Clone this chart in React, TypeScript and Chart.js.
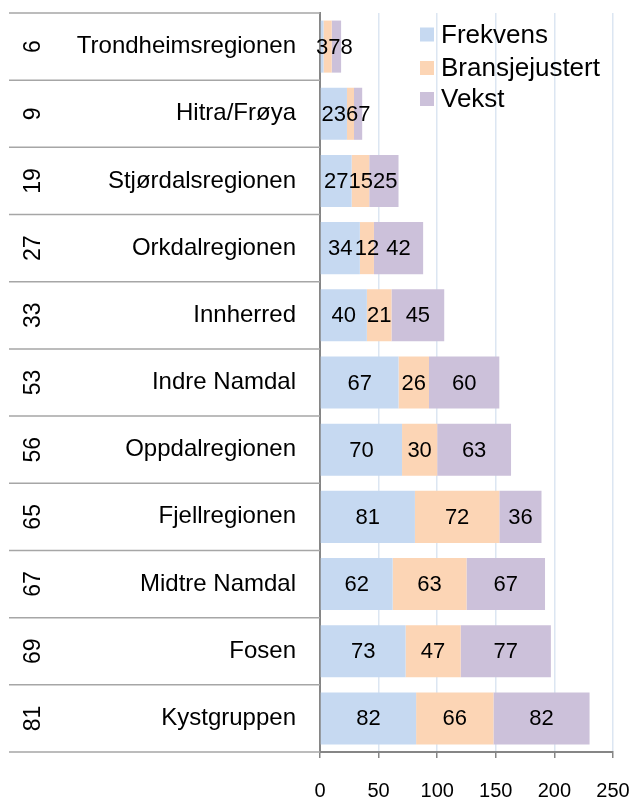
import React, { useEffect, useRef } from 'react';
import { Chart, registerables } from 'chart.js';

Chart.register(...registerables);

const regions = [
  'Trondheimsregionen',
  'Hitra/Frøya',
  'Stjørdalsregionen',
  'Orkdalregionen',
  'Innherred',
  'Indre Namdal',
  'Oppdalregionen',
  'Fjellregionen',
  'Midtre Namdal',
  'Fosen',
  'Kystgruppen',
];
const ranks = [6, 9, 19, 27, 33, 53, 56, 65, 67, 69, 81];
const frekvens = [3, 23, 27, 34, 40, 67, 70, 81, 62, 73, 82];
const bransjejustert = [7, 6, 15, 12, 21, 26, 30, 72, 63, 47, 66];
const vekst = [8, 7, 25, 42, 45, 60, 63, 36, 67, 77, 82];
const seriesNames = ['Frekvens', 'Bransjejustert', 'Vekst'];
const seriesColors = ['#c6d9f1', '#fcd5b5', '#ccc1da'];
const xMin = 0;
const xMax = 250;
const xStep = 50;

const FONT = '"Liberation Sans", Arial, Helvetica, sans-serif';

const tablePlugin = {
  id: 'tablePlugin',
  afterDatasetsDraw(chart: any) {
    const { ctx } = chart;
    ctx.save();
    ctx.font = `22px ${FONT}`;
    ctx.fillStyle = '#000';
    ctx.textBaseline = 'middle';
    ctx.textAlign = 'center';
    const n = regions.length;
    for (let i = 0; i < n; i++) {
      let prevRight = -Infinity;
      chart.data.datasets.forEach((ds: any, d: number) => {
        const el = chart.getDatasetMeta(d).data[i];
        if (!el) return;
        const text = String(ds.data[i]);
        const w = ctx.measureText(text).width;
        const cx = (el.x + el.base) / 2;
        let left = cx - w / 2;
        if (left < prevRight) left = prevRight;
        ctx.fillText(text, left + w / 2, el.y + 1);
        prevRight = left + w;
      });
    }
    ctx.restore();
  },
  afterDraw(chart: any) {
    const { ctx, chartArea, scales } = chart;
    const y = scales.y;
    const n = regions.length;
    const step = (chartArea.bottom - chartArea.top) / n;
    ctx.save();
    // table lines
    ctx.strokeStyle = '#a6a6a6';
    ctx.lineWidth = 1.5;
    for (let i = 0; i <= n; i++) {
      const yy = i < n ? y.getPixelForValue(i) - step / 2 : y.getPixelForValue(n - 1) + step / 2;
      ctx.beginPath();
      ctx.moveTo(9, yy);
      ctx.lineTo(chartArea.left, yy);
      ctx.stroke();
    }
    // rank numbers rotated
    ctx.fillStyle = '#000';
    ctx.font = `23px ${FONT}`;
    ctx.textAlign = 'center';
    ctx.textBaseline = 'middle';
    for (let i = 0; i < n; i++) {
      ctx.save();
      ctx.translate(34, y.getPixelForValue(i));
      ctx.rotate(-Math.PI / 2);
      ctx.fillText(String(ranks[i]), 0, 0);
      ctx.restore();
    }
    // legend
    const lx = 420;
    const ly = [34.5, 68, 99];
    ctx.font = `26px ${FONT}`;
    ctx.textAlign = 'left';
    chart.data.datasets.forEach((ds: any, d: number) => {
      ctx.fillStyle = ds.backgroundColor;
      ctx.fillRect(lx, ly[d] - 7, 14, 14);
      ctx.fillStyle = '#000';
      ctx.fillText(ds.label, lx + 21, ly[d] + 1);
    });
    ctx.restore();
  },
};

export default function App() {
  const ref = useRef<HTMLCanvasElement | null>(null);
  useEffect(() => {
    if (!ref.current) return;
    const seriesData = [frekvens, bransjejustert, vekst];
    const zeroPadding = (scale: any) => {
      scale.paddingTop = 0;
      scale.paddingBottom = 0;
      scale.paddingLeft = 0;
      scale.paddingRight = 0;
    };
    const chart = new Chart(ref.current, {
      type: 'bar',
      data: {
        labels: regions,
        datasets: seriesNames.map((name, i) => ({
          label: name,
          data: seriesData[i],
          backgroundColor: seriesColors[i],
          borderWidth: 0,
          barPercentage: 1,
          categoryPercentage: 0.775,
        })),
      },
      options: {
        indexAxis: 'y',
        animation: false,
        responsive: false,
        devicePixelRatio: 1,
        layout: { padding: { top: 13, right: 20, left: 0, bottom: 0 } },
        plugins: {
          legend: { display: false },
          tooltip: { enabled: false },
        },
        scales: {
          x: {
            stacked: true,
            min: xMin,
            max: xMax,
            ticks: {
              stepSize: xStep,
              color: '#000',
              font: { family: FONT, size: 20 },
              padding: 21,
              maxRotation: 0,
            },
            grid: {
              color: '#dce6f2',
              lineWidth: 1.5,
              tickColor: '#868686',
              tickLength: 6,
            },
            border: { color: '#868686', width: 2 },
            afterFit: (scale: any) => {
              scale.height = 46;
              zeroPadding(scale);
            },
          },
          y: {
            stacked: true,
            ticks: {
              color: '#000',
              font: { family: FONT, size: 24 },
              padding: 24,
            },
            grid: { drawOnChartArea: false, drawTicks: false },
            border: { color: '#868686', width: 2 },
            afterFit: (scale: any) => {
              scale.width = 320;
              zeroPadding(scale);
            },
          },
        },
      },
      plugins: [tablePlugin],
    } as any);
    return () => chart.destroy();
  }, []);
  return (
    <div style={{ position: 'absolute', left: 0, top: 0, width: 633, height: 798 }}>
      <canvas ref={ref} width={633} height={798} style={{ width: 633, height: 798, display: 'block' }} />
    </div>
  );
}
